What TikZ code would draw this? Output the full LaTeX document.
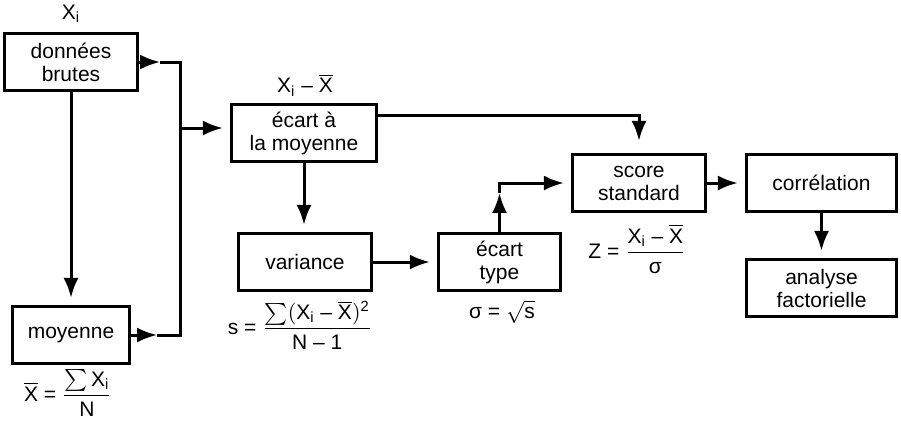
\documentclass[tikz,border=0pt]{standalone}
\usepackage{amsmath}
\usepackage{fontspec}
\setmainfont{Liberation Sans}
\usepackage{tikz}
\usetikzlibrary{arrows.meta}
\newcommand{\Xbarre}{\overline{\text{X}}}
\newcommand{\Xind}{\text{X}_\text{i}}

\begin{document}
\begin{tikzpicture}[x=0.5pt,y=-0.5pt, font=\fontsize{10.5}{11.5}\selectfont,
        box/.style={draw, line width=1.6pt, align=center, minimum height=28.5pt, inner sep=1pt},
        fleche/.style={-{Latex[length=10pt,width=7.5pt]}, line width=1.5pt},
        vers/.style={fleche, shorten >=3.5pt},
        lien/.style={line width=1.5pt}]
                \useasboundingbox (0,0) rectangle (901,420);
                \node[box, minimum width=66.5pt] (brutes) at (71,62) {données\\brutes};
                \node[box, minimum width=58.5pt] (moyenne) at (71,335) {moyenne};
                \node[box, minimum width=72.5pt] (ecart) at (304,133) {écart à\\la moyenne};
                \node[box, minimum width=66.5pt] (variance) at (305,262) {variance};
                \node[box, minimum width=61pt] (type) at (499.5,262) {écart\\type};
                \node[box, minimum width=66.5pt] (score) at (639,183) {score\\standard};
                \node[box, minimum width=75pt] (correl) at (821.5,183) {corrélation};
                \node[box, minimum width=75pt] (analyse) at (821.5,288) {analyse\\factorielle};
                % formules
                \node (fxi) at (71,14) {$\Xind$};
                \node (fecart) at (305,85) {$\Xind\text{ – }\Xbarre$};
                \node (fmoy) at (68,393) {$\Xbarre\text{ = }\dfrac{\sum\Xind}{\text{N}}$};
                \node (fvar) at (300,325) {$\text{s = }\dfrac{\sum(\Xind\text{ – }\Xbarre)^\text{2}}{\text{N – 1}}$};
                \node (ftype) at (502,312) {$\text{σ = }\sqrt{\text{s}}$};
                \node (fscore) at (637,249) {$\text{Z = }\dfrac{\Xind\text{ – }\Xbarre}{\text{σ}}$};
                % connexions
                \coordinate (jonction) at (180,128);
                \draw[fleche] (brutes.east) -- ++(21,0) coordinate (b1);
                \draw[lien] (b1) -| (jonction);
                \draw[fleche] (moyenne.east) -- ++(26,0) coordinate (m1);
                \draw[lien] (m1) -| (jonction);
                \draw[vers] (jonction) -- (jonction -| ecart.west);
                \draw[vers] (brutes) -- (moyenne);
                \draw[vers] (ecart.south) -- (ecart.south |- variance.north);
                \draw[fleche, shorten >=6pt] ([yshift=9pt]ecart.east) -| (score.north);
                \draw[vers] (variance) -- (type);
                \draw[fleche] (type.north) -- ++(0,-39) coordinate (t1);
                \draw[vers] (t1) |- (score.west);
                \draw[vers] (score) -- (correl);
                \draw[vers] (correl) -- (analyse);
            \end{tikzpicture}
\end{document}
